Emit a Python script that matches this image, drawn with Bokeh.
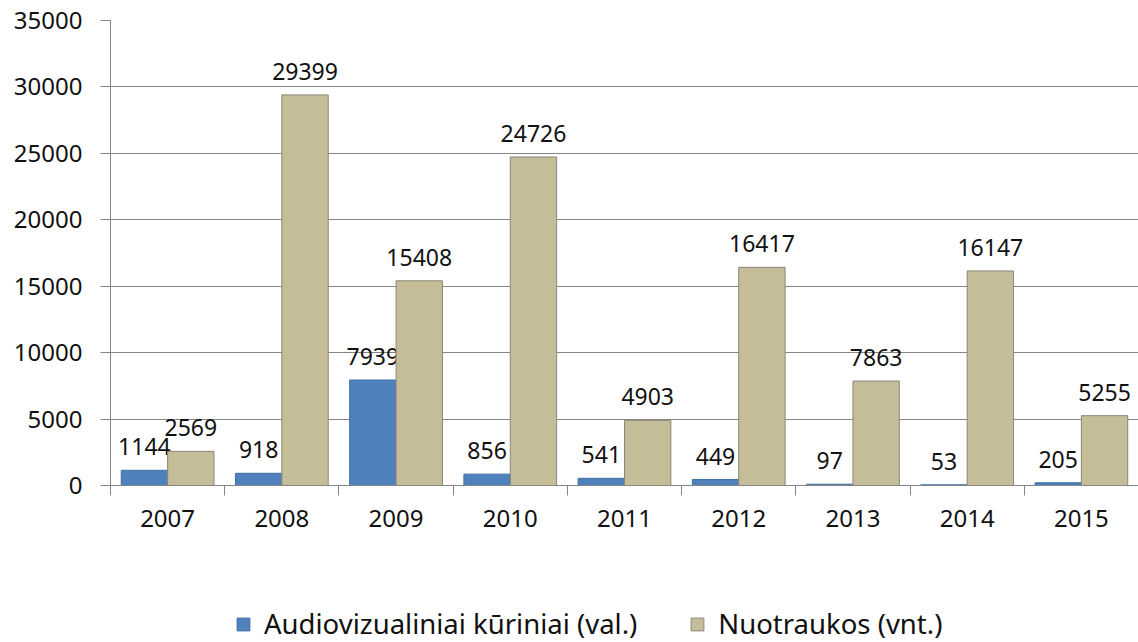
from bokeh.plotting import figure
from bokeh.layouts import column
from bokeh.models import ColumnDataSource, FixedTicker, Legend, LegendItem, Range1d
from bokeh.transform import dodge
from bokeh.core.properties import value
from bokeh.embed import file_html
from bokeh.resources import INLINE

years = ["2007", "2008", "2009", "2010", "2011", "2012", "2013", "2014", "2015"]
audio = [1144, 918, 7939, 856, 541, 449, 97, 53, 205]
photos = [2569, 29399, 15408, 24726, 4903, 16417, 7863, 16147, 5255]
y_ticks = [0, 5000, 10000, 15000, 20000, 25000, 30000, 35000]
series_names = ["Audiovizualiniai kūriniai (val.)", "Nuotraukos (vnt.)"]
colors = ["#4F81BD", "#C4BD97"]
edges = ["#3F6EA6", "#8A8778"]

FONT = "Noto Sans"
GRAY = "#868686"

xs = [i + 0.5 for i in range(len(years))]
src = ColumnDataSource(dict(
    x=xs, year=years, audio=audio, photos=photos,
    audio_lbl=[str(v) for v in audio], photos_lbl=[str(v) for v in photos],
))

p = figure(width=1138, height=560,
           x_range=Range1d(0, len(years)), y_range=Range1d(y_ticks[0], y_ticks[-1]),
           output_backend="svg", toolbar_location=None,
           min_border_left=110, min_border_right=0, min_border_top=20, min_border_bottom=75)
p.outline_line_color = None
p.xgrid.visible = False
p.ygrid.grid_line_color = GRAY
p.ygrid.ticker = FixedTicker(ticks=y_ticks)

W = 0.406
off = 0.203
cols = ["audio", "photos"]
for c, o, fc, ec in zip(cols, [-off, off], colors, edges):
    p.vbar(x=dodge('x', o), top=c, width=W, source=src,
           fill_color=fc, line_color=ec, line_width=1)
    p.text(x=dodge('x', o), y=c, text=c + "_lbl", source=src,
           text_align="center", text_baseline="bottom", y_offset=-15,
           text_font=value(FONT), text_font_size="23px", text_color="#111111")

# y axis
ya = p.yaxis[0]
ya.ticker = FixedTicker(ticks=y_ticks)
ya.axis_line_color = GRAY
ya.major_tick_line_color = GRAY
ya.major_tick_out = 10
ya.major_tick_in = 0
ya.minor_tick_line_color = None
ya.major_label_standoff = 18
ya.major_label_text_font = FONT
ya.major_label_text_font_size = "24px"
ya.major_label_text_color = "#111111"

# x axis
xa = p.xaxis[0]
xa.ticker = FixedTicker(ticks=xs, minor_ticks=list(range(len(years) + 1)))
xa.major_label_overrides = {x: y for x, y in zip(xs, years)}
xa.axis_line_color = GRAY
xa.major_tick_line_color = None
xa.major_tick_out = 0
xa.major_tick_in = 0
xa.minor_tick_line_color = GRAY
xa.minor_tick_out = 10
xa.minor_tick_in = 0
xa.major_label_standoff = 14
xa.major_label_text_font = FONT
xa.major_label_text_font_size = "24px"
xa.major_label_text_color = "#111111"

# legend strip below the chart: hidden proxy renderers supply the legend glyphs
lg = figure(width=1138, height=82, x_range=Range1d(0, len(years)), y_range=Range1d(0, 1),
            output_backend="svg", toolbar_location=None,
            min_border_left=0, min_border_right=0, min_border_top=0, min_border_bottom=0)
lg.axis.visible = False
lg.grid.visible = False
lg.outline_line_color = None
proxies = [lg.vbar(x='x', top=c, width=W, source=src, visible=False,
                   fill_color=fc, line_color=ec, line_width=1)
           for c, fc, ec in zip(cols, colors, edges)]

legend = Legend(items=[LegendItem(label=n, renderers=[r]) for n, r in zip(series_names, proxies)],
                location=(125, 0), orientation="horizontal",
                border_line_color=None, background_fill_alpha=0,
                inactive_fill_alpha=0,
                padding=0, margin=0, spacing=52, label_standoff=13,
                glyph_width=16, glyph_height=16,
                label_text_font=FONT, label_text_font_size="27.5px",
                label_text_color="#111111")
lg.add_layout(legend)

layout = column(p, lg, spacing=0)
open("out.html", "w").write(file_html(layout, INLINE))
